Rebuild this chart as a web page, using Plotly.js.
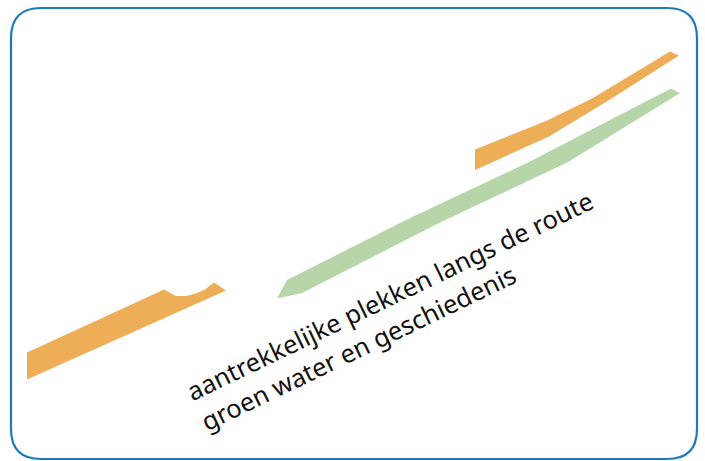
<!DOCTYPE html>
<html>
<head>
<meta charset="utf-8">
<script src="https://cdn.plot.ly/plotly-3.0.1.min.js"></script>
<style>html,body{margin:0;padding:0;background:#fff;}#chart{width:705px;height:461px;}</style>
</head>
<body>
<div id="chart"></div>
<script>
// Route segments (outline vertices in picture units, 0..705 x 0..461)
const orangeWestX = [27, 27, 164, 176, 186, 196, 205, 214, 226];
const orangeWestY = [379.5, 352.5, 289.5, 296, 296, 293.5, 289.5, 282.5, 290.5];
const orangeEastX = [475, 475, 546, 592, 670, 679, 610, 549];
const orangeEastY = [170, 149.5, 121, 98.5, 51.5, 55.5, 99.5, 136.5];
const greenX = [277, 287, 408, 527, 671, 680, 568, 437, 302];
const greenY = [298.5, 280, 219, 163, 88.5, 93, 162, 224, 293];
const labelLines = ["aantrekkelijke plekken langs de route", "groen water en geschiedenis"];

const ORANGE = "#EEAD57";
const GREEN = "#B6D5A8";

function poly(x, y, color) {
  return {
    type: "scatter", mode: "lines", x: x, y: y, fill: "toself",
    fillcolor: color, line: {width: 0, color: color}, hoverinfo: "skip", showlegend: false
  };
}

const data = [
  poly(orangeWestX, orangeWestY, ORANGE),
  poly(orangeEastX, orangeEastY, ORANGE),
  poly(greenX, greenY, GREEN)
];

const layout = {
  width: 705, height: 461,
  margin: {l: 0, r: 0, t: 0, b: 0, pad: 0},
  paper_bgcolor: "#ffffff", plot_bgcolor: "#ffffff",
  showlegend: false,
  xaxis: {range: [0, 705], visible: false, fixedrange: true},
  yaxis: {range: [461, 0], visible: false, fixedrange: true},
  shapes: [{
    type: "path", xref: "x", yref: "y",
    path: "M 41 8 L 667 8 Q 697 8 697 38 L 697 429 Q 697 459 667 459 L 41 459 Q 11 459 11 429 L 11 38 Q 11 8 41 8 Z",
    line: {color: "#1B7BBA", width: 2.2}, fillcolor: "rgba(0,0,0,0)", layer: "above"
  }],
  annotations: [{
    x: 396.5, y: 310, xref: "x", yref: "y",
    text: labelLines.join("<br>"), showarrow: false, align: "left",
    xanchor: "center", yanchor: "middle", textangle: -25.7,
    font: {family: "Noto Sans, Open Sans, sans-serif", size: 25.5, color: "#111111"}
  }]
};

Plotly.newPlot("chart", data, layout, {staticPlot: true, displayModeBar: false});
</script>
</body>
</html>
